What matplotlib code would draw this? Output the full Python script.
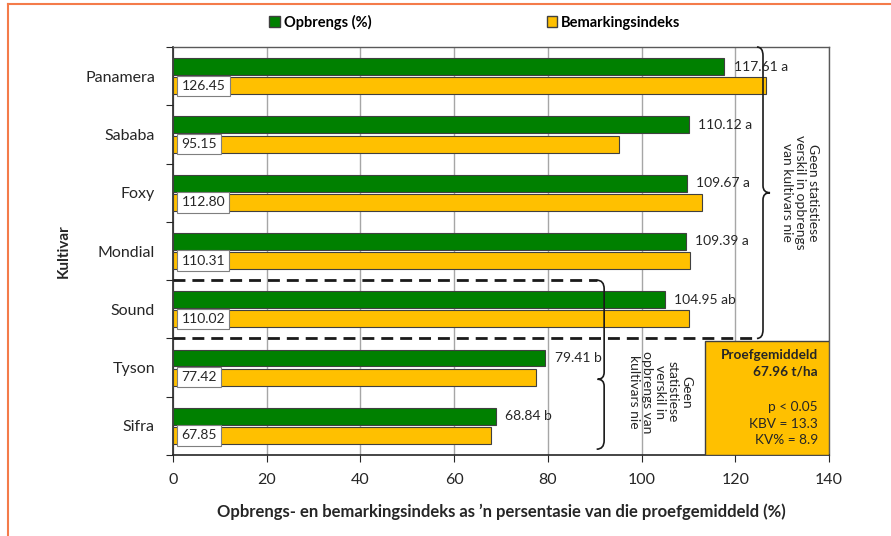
import numpy as np
import matplotlib.pyplot as plt
from matplotlib.patches import Patch, Rectangle, PathPatch
from matplotlib.path import Path
from matplotlib.lines import Line2D

plt.rcParams['font.family'] = ['Lato', 'DejaVu Sans']

# data
cultivars = ['Panamera', 'Sababa', 'Foxy', 'Mondial', 'Sound', 'Tyson', 'Sifra']
opbrengs = [117.61, 110.12, 109.67, 109.39, 104.95, 79.41, 68.84]
letters = ['a', 'a', 'a', 'a', 'ab', 'b', 'b']
bemarking = [126.45, 95.15, 112.80, 110.31, 110.02, 77.42, 67.85]
stats_lines = ['Proefgemiddeld', '67.96 t/ha', 'p < 0.05', 'KBV = 13.3', 'KV% = 8.9']

green = '#008000'
yellow = '#FFC000'
txt = '#262626'

fig = plt.figure(figsize=(8.91, 5.36), dpi=100)
ax = fig.add_axes([0.1942, 0.1511, 0.7363, 0.7612])

y = np.arange(len(cultivars))
h = 0.29
ax.barh(y - 0.165, opbrengs, height=h, color=green, edgecolor='#404040', lw=0.8, zorder=3)
ax.barh(y + 0.165, bemarking, height=h, color=yellow, edgecolor='#404040', lw=0.8, zorder=3)

ax.set_xlim(0, 140)
ax.set_ylim(6.5, -0.5)
ax.set_xticks(range(0, 141, 20))
ax.xaxis.grid(True, color='#a6a6a6', lw=1, zorder=0)
ax.tick_params(axis='x', length=5, pad=8, labelsize=11.5, colors=txt)
ax.tick_params(axis='x', color='#262626')

# category ticks sit between the categories, labels in the middle
ax.set_yticks(np.arange(-0.5, 7, 1))
ax.set_yticklabels([])
ax.tick_params(axis='y', which='major', length=5, color='#262626')
ax.set_yticks(y, minor=True)
ax.set_yticklabels(cultivars, minor=True)
ax.tick_params(axis='y', which='minor', length=0, pad=13, labelsize=11.5, labelcolor=txt)

for s in ['left', 'bottom']:
    ax.spines[s].set_color('#262626')
    ax.spines[s].set_linewidth(1.2)
for s in ['top', 'right']:
    ax.spines[s].set_color('#595959')
    ax.spines[s].set_linewidth(1)

ax.set_xlabel("Opbrengs- en bemarkingsindeks as \u2019n persentasie van die proefgemiddeld (%)",
              fontsize=12, fontweight='bold', color=txt, labelpad=12)
fig.text(64 / 891, 0.532, 'Kultivar', rotation=90, ha='center', va='center',
         fontsize=11, fontweight='bold', color=txt)

# value labels
for i in range(len(cultivars)):
    ax.text(opbrengs[i] + 2, y[i] - 0.165, f'{opbrengs[i]:.2f} {letters[i]}',
            va='center', ha='left', fontsize=10, color=txt, zorder=6)
    ax.text(1.8, y[i] + 0.165, f'{bemarking[i]:.2f}', va='center', ha='left',
            fontsize=10, color=txt, zorder=6,
            bbox=dict(boxstyle='square,pad=0.3', fc='white', ec='#7f7f7f', lw=0.8))

# dashed group separators
dash = (0, (4.3, 2.5))
ax.plot([0, 124.6], [4.5, 4.5], ls=dash, color='#1a1a1a', lw=2, zorder=4, clip_on=False)
ax.plot([0, 90.4], [3.5, 3.5], ls=dash, color='#1a1a1a', lw=2, zorder=4, clip_on=False)

# braces
M, L, C = Path.MOVETO, Path.LINETO, Path.CURVE3
up = Path([(124.6, -0.5), (125.9, -0.5), (125.9, -0.35), (125.9, 1.88),
           (125.9, 2.0), (127.4, 2.0), (125.9, 2.0), (125.9, 2.12),
           (125.9, 4.35), (125.9, 4.5), (124.6, 4.5)],
          [M, C, C, L, C, C, C, C, L, C, C])
lo = Path([(90.4, 3.5), (92.0, 3.5), (92.0, 3.65), (92.0, 5.08),
           (92.0, 5.2), (90.6, 5.2), (92.0, 5.2), (92.0, 5.32),
           (92.0, 6.25), (92.0, 6.4), (90.4, 6.4)],
          [M, C, C, L, C, C, C, C, L, C, C])
for p in (up, lo):
    ax.add_patch(PathPatch(p, fc='none', ec='#1a1a1a', lw=1.2, zorder=4, clip_on=False))

ax.text(133.8, 2.0, 'Geen statistiese\nverskil in opbrengs\nvan kultivars nie', rotation=-90,
        ha='center', va='center', multialignment='center', fontsize=10,
        color=txt, linespacing=1.1)
ax.text(103.9, 5.42, 'Geen\nstatistiese\nverskil in\nopbrengs van\nkultivars nie', rotation=-90,
        ha='center', va='center', multialignment='center', fontsize=10,
        color=txt, linespacing=1.1)

# trial mean box
ax.add_patch(Rectangle((113.6, 4.54), 26.4, 1.96, fc=yellow, ec='#404040', lw=1, zorder=5))
stats_y = [4.78, 5.07, 5.67, 5.97, 6.24]
for k, (s, yy) in enumerate(zip(stats_lines, stats_y)):
    ax.text(137.6, yy, s, ha='right', va='center', fontsize=9.8, color=txt,
            fontweight='bold' if k < 2 else 'normal', zorder=6)

# legend
handles = [Patch(fc=green, ec='#404040'), Patch(fc=yellow, ec='#404040')]
fig.legend(handles, ['Opbrengs (%)', 'Bemarkingsindeks'], ncol=2, loc='center',
           bbox_to_anchor=(475 / 891, 1 - 22 / 536), frameon=False,
           handlelength=0.7, handleheight=0.7, handletextpad=0.3, columnspacing=12,
           prop={'weight': 'bold', 'size': 10.5})

# orange frame (left and top visible)
fig.add_artist(Line2D([8 / 891, 8 / 891], [0, 1 - 4 / 536], color='#F47B4A', lw=1.5))
fig.add_artist(Line2D([8 / 891, 1], [1 - 4 / 536, 1 - 4 / 536], color='#F47B4A', lw=1.5))

fig.savefig('out.png', dpi=100)
